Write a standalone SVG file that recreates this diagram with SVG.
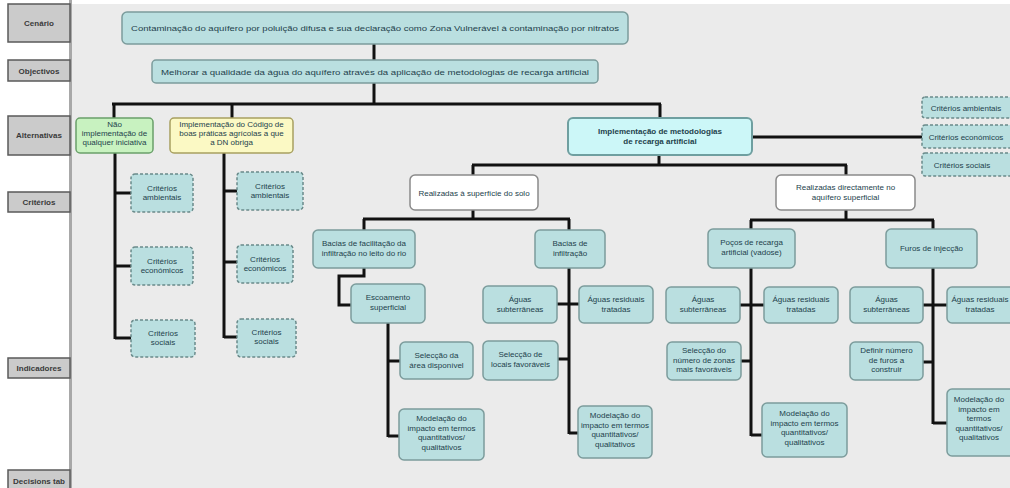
<svg xmlns="http://www.w3.org/2000/svg" width="1010" height="488" viewBox="0 0 1010 488">
<style>
.bg{fill:#ebebeb}
.lab rect{fill:#cbcbcb;stroke:#5a5a5a;stroke-width:1.5}
.lab text{font-family:"Liberation Sans",Arial,sans-serif;font-size:8px;font-weight:bold;fill:#3a3a3a;text-anchor:middle}
.n rect{fill:#badfe0;stroke:#7c9c9c;stroke-width:1.5}
.d rect{fill:#badfe0;stroke:#6a8a8a;stroke-width:1.5;stroke-dasharray:3 2}
.w rect{fill:#ffffff;stroke:#8a8a8a;stroke-width:1.5}
text{font-family:"Liberation Sans",Arial,sans-serif;font-size:8px;fill:#23424c;text-anchor:middle}
.c line,.c polyline{stroke:#111;stroke-width:3;fill:none}
</style>
<rect x="0" y="0" width="1010" height="488" fill="#ffffff"/>
<rect class="bg" x="72" y="4" width="938" height="484"/>
<rect x="69" y="0" width="3" height="488" fill="#a8a8a8"/>

<g id="labels">
<g class="lab" id="lab-cenario"><rect x="8" y="4" width="62" height="38"/><text x="39" y="26">Cenário</text></g>
<g class="lab" id="lab-objectivos"><rect x="8" y="60" width="62" height="21"/><text x="39" y="74">Objectivos</text></g>
<g class="lab" id="lab-alternativas"><rect x="8" y="116" width="62" height="39"/><text x="39" y="138">Alternativas</text></g>
<g class="lab" id="lab-criterios"><rect x="8" y="192" width="62" height="20"/><text x="39" y="205">Critérios</text></g>
<g class="lab" id="lab-indicadores"><rect x="8" y="358" width="62" height="20"/><text x="39" y="371">Indicadores</text></g>
<g class="lab" id="lab-decisions"><rect x="8" y="470" width="62" height="22"/><text x="39" y="484">Decisions tab</text></g>
</g>

<g class="c" id="connectors">
<line x1="374" y1="44" x2="374" y2="60"/>
<line x1="374" y1="83" x2="374" y2="104"/>
<line x1="112" y1="104" x2="661" y2="104"/>
<line x1="114" y1="104" x2="114" y2="118"/>
<line x1="232" y1="104" x2="232" y2="118"/>
<line x1="660" y1="104" x2="660" y2="118"/>
<line x1="115" y1="153" x2="115" y2="339"/>
<line x1="115" y1="193" x2="131" y2="193"/>
<line x1="115" y1="266" x2="131" y2="266"/>
<line x1="115" y1="338" x2="131" y2="338"/>
<line x1="224" y1="153" x2="224" y2="338"/>
<line x1="224" y1="191" x2="237" y2="191"/>
<line x1="224" y1="262" x2="237" y2="262"/>
<line x1="224" y1="337" x2="237" y2="337"/>
<line x1="752" y1="137" x2="922" y2="137"/>
<line x1="659" y1="155" x2="659" y2="165"/>
<line x1="472" y1="165" x2="847" y2="165"/>
<line x1="473" y1="165" x2="473" y2="175"/>
<line x1="846" y1="165" x2="846" y2="175"/>
<line x1="473" y1="210" x2="473" y2="219"/>
<line x1="363" y1="219" x2="570" y2="219"/>
<line x1="364" y1="219" x2="364" y2="230"/>
<line x1="569" y1="219" x2="569" y2="230"/>
<line x1="846" y1="210" x2="846" y2="220"/>
<line x1="750" y1="220" x2="934" y2="220"/>
<line x1="751" y1="220" x2="751" y2="229"/>
<line x1="933" y1="220" x2="933" y2="229"/>
<polyline points="364,268 364,276 339,276 339,305 351,305"/>
<line x1="388" y1="323" x2="388" y2="437"/>
<line x1="388" y1="361" x2="400" y2="361"/>
<line x1="388" y1="436" x2="399" y2="436"/>
<line x1="569" y1="268" x2="569" y2="434"/>
<line x1="557" y1="304" x2="579" y2="304"/>
<line x1="558" y1="359" x2="569" y2="359"/>
<line x1="569" y1="433" x2="578" y2="433"/>
<line x1="751" y1="268" x2="751" y2="436"/>
<line x1="740" y1="305" x2="764" y2="305"/>
<line x1="741" y1="361" x2="751" y2="361"/>
<line x1="751" y1="435" x2="762" y2="435"/>
<line x1="933" y1="268" x2="933" y2="424"/>
<line x1="923" y1="305" x2="947" y2="305"/>
<line x1="923" y1="362" x2="933" y2="362"/>
<line x1="933" y1="423" x2="947" y2="423"/>
</g>

<g class="n" id="cenario"><rect x="122" y="12" width="506" height="32" rx="5"/><text x="375" y="31" font-size="9" textLength="488" lengthAdjust="spacingAndGlyphs">Contaminação do aquífero por poluição difusa e sua declaração como Zona Vulnerável à contaminação por nitratos</text></g>
<g class="n" id="objectivo"><rect x="152" y="60" width="446" height="23" rx="4"/><text x="375" y="74.5" font-size="9" textLength="428" lengthAdjust="spacingAndGlyphs">Melhorar a qualidade da água do aquífero através da aplicação de metodologias de recarga artificial</text></g>

<g id="alt-nao"><rect x="76" y="118" width="77" height="35" rx="4" fill="#c8f2c0" stroke="#6aa06a" stroke-width="1.5"/><text x="114.5" y="127">Não<tspan x="114.5" dy="9">implementação de</tspan><tspan x="114.5" dy="9">qualquer iniciativa</tspan></text></g>
<g id="alt-codigo"><rect x="170" y="118" width="123" height="35" rx="4" fill="#fbf9c4" stroke="#a8a060" stroke-width="1.5"/><text x="231.5" y="127" font-size="7.8">Implementação do Código de<tspan x="231.5" dy="9">boas práticas agrícolas a que</tspan><tspan x="231.5" dy="9">a DN obriga</tspan></text></g>
<g id="alt-recarga"><rect x="568" y="118" width="184" height="37" rx="5" fill="#ccf7f8" stroke="#6f9fa0" stroke-width="2"/><text x="660" y="134" font-size="9.5" font-weight="bold">Implementação de metodologias<tspan x="660" dy="10">de recarga artificial</tspan></text></g>

<g class="d" id="c1-amb"><rect x="131" y="174" width="62" height="38" rx="4"/><text x="162" y="191">Critérios<tspan x="162" dy="9">ambientais</tspan></text></g>
<g class="d" id="c1-eco"><rect x="131" y="247" width="62" height="38" rx="4"/><text x="162" y="264">Critérios<tspan x="162" dy="9">económicos</tspan></text></g>
<g class="d" id="c1-soc"><rect x="131" y="320" width="64" height="37" rx="4"/><text x="163" y="336">Critérios<tspan x="163" dy="9">sociais</tspan></text></g>
<g class="d" id="c2-amb"><rect x="237" y="172" width="66" height="38" rx="4"/><text x="270" y="189">Critérios<tspan x="270" dy="9">ambientais</tspan></text></g>
<g class="d" id="c2-eco"><rect x="237" y="245" width="56" height="38" rx="4"/><text x="265" y="262">Critérios<tspan x="265" dy="9">económicos</tspan></text></g>
<g class="d" id="c2-soc"><rect x="237" y="319" width="59" height="38" rx="4"/><text x="266.5" y="335">Critérios<tspan x="266.5" dy="9">sociais</tspan></text></g>
<g class="d" id="c3-amb"><rect x="922" y="97" width="96" height="21" rx="3"/><text x="966" y="110.5">Critérios ambientais</text></g>
<g class="d" id="c3-eco"><rect x="922" y="125" width="96" height="23" rx="3"/><text x="966" y="139.5">Critérios económicos</text></g>
<g class="d" id="c3-soc"><rect x="922" y="153" width="96" height="23" rx="3"/><text x="962" y="167.5">Critérios sociais</text></g>

<g class="w" id="superficie"><rect x="410" y="175" width="128" height="35" rx="5"/><text x="474" y="195.5">Realizadas à superfície do solo</text></g>
<g class="w" id="directamente"><rect x="776" y="175" width="139" height="35" rx="5"/><text x="845.5" y="190">Realizadas directamente no<tspan x="845.5" dy="9.5">aquífero superficial</tspan></text></g>

<g class="n" id="bacias-rio"><rect x="313" y="230" width="102" height="38" rx="5"/><text x="364" y="246">Bacias de facilitação da<tspan x="364" dy="9.5">infiltração no leito do rio</tspan></text></g>
<g class="n" id="bacias-inf"><rect x="535" y="230" width="70" height="38" rx="5"/><text x="570" y="246">Bacias de<tspan x="570" dy="9.5">infiltração</tspan></text></g>
<g class="n" id="pocos"><rect x="708" y="229" width="87" height="39" rx="5"/><text x="751.5" y="245">Poços de recarga<tspan x="751.5" dy="9.5">artificial (vadose)</tspan></text></g>
<g class="n" id="furos"><rect x="886" y="229" width="91" height="39" rx="5"/><text x="931.5" y="251">Furos de injecção</text></g>

<g class="n" id="escoamento"><rect x="351" y="284" width="74" height="39" rx="5"/><text x="388" y="300">Escoamento<tspan x="388" dy="9.5">superficial</tspan></text></g>
<g class="n" id="sel-area"><rect x="400" y="342" width="73" height="37" rx="5"/><text x="436.5" y="358">Selecção da<tspan x="436.5" dy="9.5">área disponível</tspan></text></g>
<g class="n" id="mod-1"><rect x="399" y="409" width="85" height="51" rx="5"/><text x="441.5" y="421">Modelação do<tspan x="441.5" dy="9.5">impacto em termos</tspan><tspan x="441.5" dy="9.5">quantitativos/</tspan><tspan x="441.5" dy="9.5">qualitativos</tspan></text></g>

<g class="n" id="sub-1"><rect x="483" y="286" width="74" height="37" rx="5"/><text x="520" y="302">Águas<tspan x="520" dy="9.5">subterrâneas</tspan></text></g>
<g class="n" id="res-1"><rect x="579" y="286" width="74" height="37" rx="5"/><text x="616" y="302">Águas residuais<tspan x="616" dy="9.5">tratadas</tspan></text></g>
<g class="n" id="sel-locais"><rect x="483" y="341" width="75" height="39" rx="5"/><text x="520.5" y="357">Selecção de<tspan x="520.5" dy="9.5">locais favoráveis</tspan></text></g>
<g class="n" id="mod-2"><rect x="578" y="406" width="74" height="52" rx="5"/><text x="615" y="418">Modelação do<tspan x="615" dy="9.5">impacto em termos</tspan><tspan x="615" dy="9.5">quantitativos/</tspan><tspan x="615" dy="9.5">qualitativos</tspan></text></g>

<g class="n" id="sub-2"><rect x="666" y="287" width="74" height="36" rx="5"/><text x="703" y="302">Águas<tspan x="703" dy="9.5">subterrâneas</tspan></text></g>
<g class="n" id="res-2"><rect x="764" y="287" width="74" height="36" rx="5"/><text x="801" y="302">Águas residuais<tspan x="801" dy="9.5">tratadas</tspan></text></g>
<g class="n" id="sel-numero"><rect x="667" y="342" width="74" height="38" rx="5"/><text x="704" y="353">Selecção do<tspan x="704" dy="9.5">número de zonas</tspan><tspan x="704" dy="9.5">mais favoráveis</tspan></text></g>
<g class="n" id="mod-3"><rect x="762" y="403" width="85" height="54" rx="5"/><text x="804.5" y="416">Modelação do<tspan x="804.5" dy="9.5">impacto em termos</tspan><tspan x="804.5" dy="9.5">quantitativos/</tspan><tspan x="804.5" dy="9.5">qualitativos</tspan></text></g>

<g class="n" id="sub-3"><rect x="850" y="287" width="73" height="36" rx="5"/><text x="886.5" y="302">Águas<tspan x="886.5" dy="9.5">subterrâneas</tspan></text></g>
<g class="n" id="res-3"><rect x="947" y="287" width="70" height="36" rx="5"/><text x="980" y="302">Águas residuais<tspan x="980" dy="9.5">tratadas</tspan></text></g>
<g class="n" id="definir"><rect x="850" y="342" width="73" height="38" rx="5"/><text x="886.5" y="353">Definir número<tspan x="886.5" dy="9.5">de furos a</tspan><tspan x="886.5" dy="9.5">construir</tspan></text></g>
<g class="n" id="mod-4"><rect x="947" y="389" width="70" height="67" rx="5"/><text x="979" y="402">Modelação do<tspan x="979" dy="9.5">impacto em</tspan><tspan x="979" dy="9.5">termos</tspan><tspan x="979" dy="9.5">quantitativos/</tspan><tspan x="979" dy="9.5">qualitativos</tspan></text></g>
</svg>
